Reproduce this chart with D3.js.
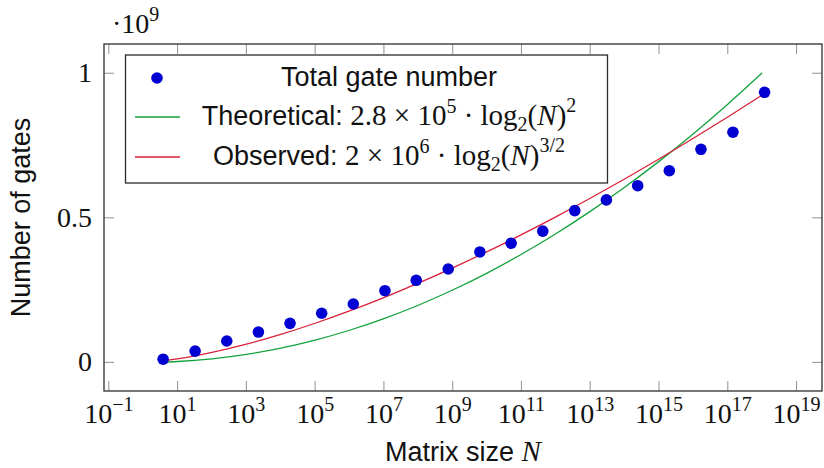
<!DOCTYPE html>
<html>
<head>
<meta charset="utf-8">
<script src="https://cdn.jsdelivr.net/npm/d3@7"></script>
<style>
  body { margin: 0; background: #fff; }
  .sans { font-family: "Liberation Sans", Arial, sans-serif; }
  .serif { font-family: "Liberation Serif", "Times New Roman", serif; }
</style>
</head>
<body>
<svg id="chart" width="824" height="468"></svg>
<script>
// measured points: log10(N) and gate count (x 1e9)
var pointExps = [0.58, 1.51, 2.43, 3.35, 4.27, 5.19, 6.11, 7.03, 7.94, 8.87, 9.79, 10.70, 11.62, 12.55, 13.47, 14.38, 15.30, 16.22, 17.15, 18.07];
var pointGates = [0.011, 0.039, 0.074, 0.105, 0.135, 0.170, 0.202, 0.248, 0.284, 0.323, 0.382, 0.412, 0.454, 0.525, 0.562, 0.611, 0.663, 0.737, 0.796, 0.934];

// fitted curves, read at each decade
var lineExps = [0.6, 1, 2, 3, 4, 5, 6, 7, 8, 9, 10, 11, 12, 13, 14, 15, 16, 17, 18];
var theoretical = [0.0011, 0.0031, 0.0124, 0.0278, 0.0494, 0.0772, 0.1112, 0.1514, 0.1977, 0.2503, 0.3090, 0.3739, 0.4449, 0.5222, 0.6056, 0.6952, 0.7910, 0.8930, 1.0011];
var observed = [0.0056, 0.0121, 0.0343, 0.0629, 0.0969, 0.1354, 0.1780, 0.2243, 0.2740, 0.3270, 0.3829, 0.4418, 0.5034, 0.5676, 0.6343, 0.7035, 0.7750, 0.8488, 0.9247];

var xTickExps = [-1, 1, 3, 5, 7, 9, 11, 13, 15, 17, 19];
var yTicks = [0, 0.5, 1];
var yTickLabels = ["0", "0.5", "1"];

var svg = d3.select("#chart");
var mLeft = 104, mRight = 822, mTop = 44, mBottom = 391;

// pgfplots style: enlarge limits by 10% of the data range
var xLo = d3.min(lineExps), xHi = d3.max(lineExps);
var xPad = (xHi - xLo) * 0.1;
var yMin = d3.min(theoretical), yMax = d3.max(theoretical);
var yPad = (yMax - yMin) * 0.1;

var x = d3.scaleLog()
    .domain([Math.pow(10, xLo - xPad), Math.pow(10, xHi + xPad)])
    .range([mLeft, mRight]);
var y = d3.scaleLinear()
    .domain([yMin - yPad, yMax + yPad])
    .range([mBottom, mTop]);

var tickColor = "#9a9a9a", tickLen = 10;

// ticks on all four sides
xTickExps.forEach(function(e) {
  var px = x(Math.pow(10, e));
  svg.append("line").attr("x1", px).attr("x2", px).attr("y1", mBottom).attr("y2", mBottom - tickLen)
    .attr("stroke", tickColor).attr("stroke-width", 1.1);
  svg.append("line").attr("x1", px).attr("x2", px).attr("y1", mTop).attr("y2", mTop + tickLen)
    .attr("stroke", tickColor).attr("stroke-width", 1.1);
});
yTicks.forEach(function(v) {
  var py = y(v);
  svg.append("line").attr("x1", mLeft).attr("x2", mLeft + tickLen).attr("y1", py).attr("y2", py)
    .attr("stroke", tickColor).attr("stroke-width", 1.1);
  svg.append("line").attr("x1", mRight).attr("x2", mRight - tickLen).attr("y1", py).attr("y2", py)
    .attr("stroke", tickColor).attr("stroke-width", 1.1);
});

// x tick labels 10^e
xTickExps.forEach(function(e) {
  var t = svg.append("text").attr("class", "serif")
    .attr("x", x(Math.pow(10, e))).attr("y", 423)
    .attr("text-anchor", "middle").attr("font-size", 28).attr("fill", "#111");
  t.append("tspan").text("10");
  t.append("tspan").attr("dy", -12).attr("font-size", 20).text(e < 0 ? "\u2212" + (-e) : e);
});

// y tick labels
yTicks.forEach(function(v, i) {
  svg.append("text").attr("class", "serif")
    .attr("x", 92).attr("y", y(v) + 9)
    .attr("text-anchor", "end").attr("font-size", 28).attr("fill", "#111")
    .text(yTickLabels[i]);
});

// scale factor label
var sc = svg.append("text").attr("class", "serif")
  .attr("x", 112).attr("y", 33).attr("font-size", 28).attr("fill", "#111");
sc.append("tspan").text("\u00b710");
sc.append("tspan").attr("dy", -12).attr("font-size", 20).text("9");

// curves
var curveLine = d3.line()
  .x(function(d, i) { return x(Math.pow(10, lineExps[i])); })
  .y(function(d) { return y(d); })
  .curve(d3.curveMonotoneX);

svg.append("path").datum(theoretical)
  .attr("d", curveLine).attr("fill", "none")
  .attr("stroke", "#12a23c").attr("stroke-width", 1.3);
svg.append("path").datum(observed)
  .attr("d", curveLine).attr("fill", "none")
  .attr("stroke", "#d8213a").attr("stroke-width", 1.3);

// points
svg.selectAll("circle.pt")
  .data(pointGates)
  .enter().append("circle")
    .attr("class", "pt")
    .attr("cx", function(d, i) { return x(Math.pow(10, pointExps[i])); })
    .attr("cy", function(d) { return y(d); })
    .attr("r", 5.8)
    .attr("fill", "#0000d2");

// frame
svg.append("rect")
  .attr("x", mLeft).attr("y", mTop).attr("width", mRight - mLeft).attr("height", mBottom - mTop)
  .attr("fill", "none").attr("stroke", "#3c3c3c").attr("stroke-width", 1.4);

// axis titles
svg.append("text").attr("class", "sans")
  .attr("x", (mLeft + mRight) / 2).attr("y", 461)
  .attr("text-anchor", "middle").attr("font-size", 27).attr("fill", "#111")
  .call(function(t) {
    t.append("tspan").text("Matrix size ");
    t.append("tspan").attr("class", "serif").attr("font-style", "italic").attr("font-size", 29).text("N");
  });

svg.append("text").attr("class", "sans")
  .attr("transform", "translate(30," + ((mTop + mBottom) / 2) + ") rotate(-90)")
  .attr("text-anchor", "middle").attr("font-size", 27).attr("fill", "#111")
  .text("Number of gates");

// legend
var lg = svg.append("g");
lg.append("rect")
  .attr("x", 125.5).attr("y", 55).attr("width", 482).attr("height", 128)
  .attr("fill", "#fff").attr("stroke", "#2a2a2a").attr("stroke-width", 1.3);

lg.append("circle").attr("cx", 157).attr("cy", 78).attr("r", 5.8).attr("fill", "#0000d2");
lg.append("line").attr("x1", 135).attr("x2", 180).attr("y1", 117).attr("y2", 117)
  .attr("stroke", "#12a23c").attr("stroke-width", 1.3);
lg.append("line").attr("x1", 135).attr("x2", 180).attr("y1", 157).attr("y2", 157)
  .attr("stroke", "#d8213a").attr("stroke-width", 1.3);

var cx = 389;
lg.append("text").attr("class", "sans")
  .attr("x", cx).attr("y", 86).attr("text-anchor", "middle")
  .attr("font-size", 27).attr("fill", "#111").text("Total gate number");

function mathRow(yb, label, coef, pow, expo) {
  var t = lg.append("text").attr("class", "sans")
    .attr("x", cx).attr("y", yb).attr("text-anchor", "middle")
    .attr("font-size", 27).attr("fill", "#111");
  t.append("tspan").text(label + " ");
  t.append("tspan").attr("class", "serif").attr("font-size", 29).text(coef + " \u00d7 10");
  t.append("tspan").attr("class", "serif").attr("font-size", 20).attr("dy", -12).text(pow);
  t.append("tspan").attr("class", "serif").attr("font-size", 29).attr("dy", 12).text(" \u00b7 log");
  t.append("tspan").attr("class", "serif").attr("font-size", 20).attr("dy", 6).text("2");
  t.append("tspan").attr("class", "serif").attr("font-size", 29).attr("dy", -6).text("(");
  t.append("tspan").attr("class", "serif").attr("font-size", 29).attr("font-style", "italic").text("N");
  t.append("tspan").attr("class", "serif").attr("font-size", 29).text(")");
  t.append("tspan").attr("class", "serif").attr("font-size", 20).attr("dy", -13).text(expo);
}
mathRow(125, "Theoretical:", "2.8", "5", "2");
mathRow(165, "Observed:", "2", "6", "3/2");
</script>
</body>
</html>
